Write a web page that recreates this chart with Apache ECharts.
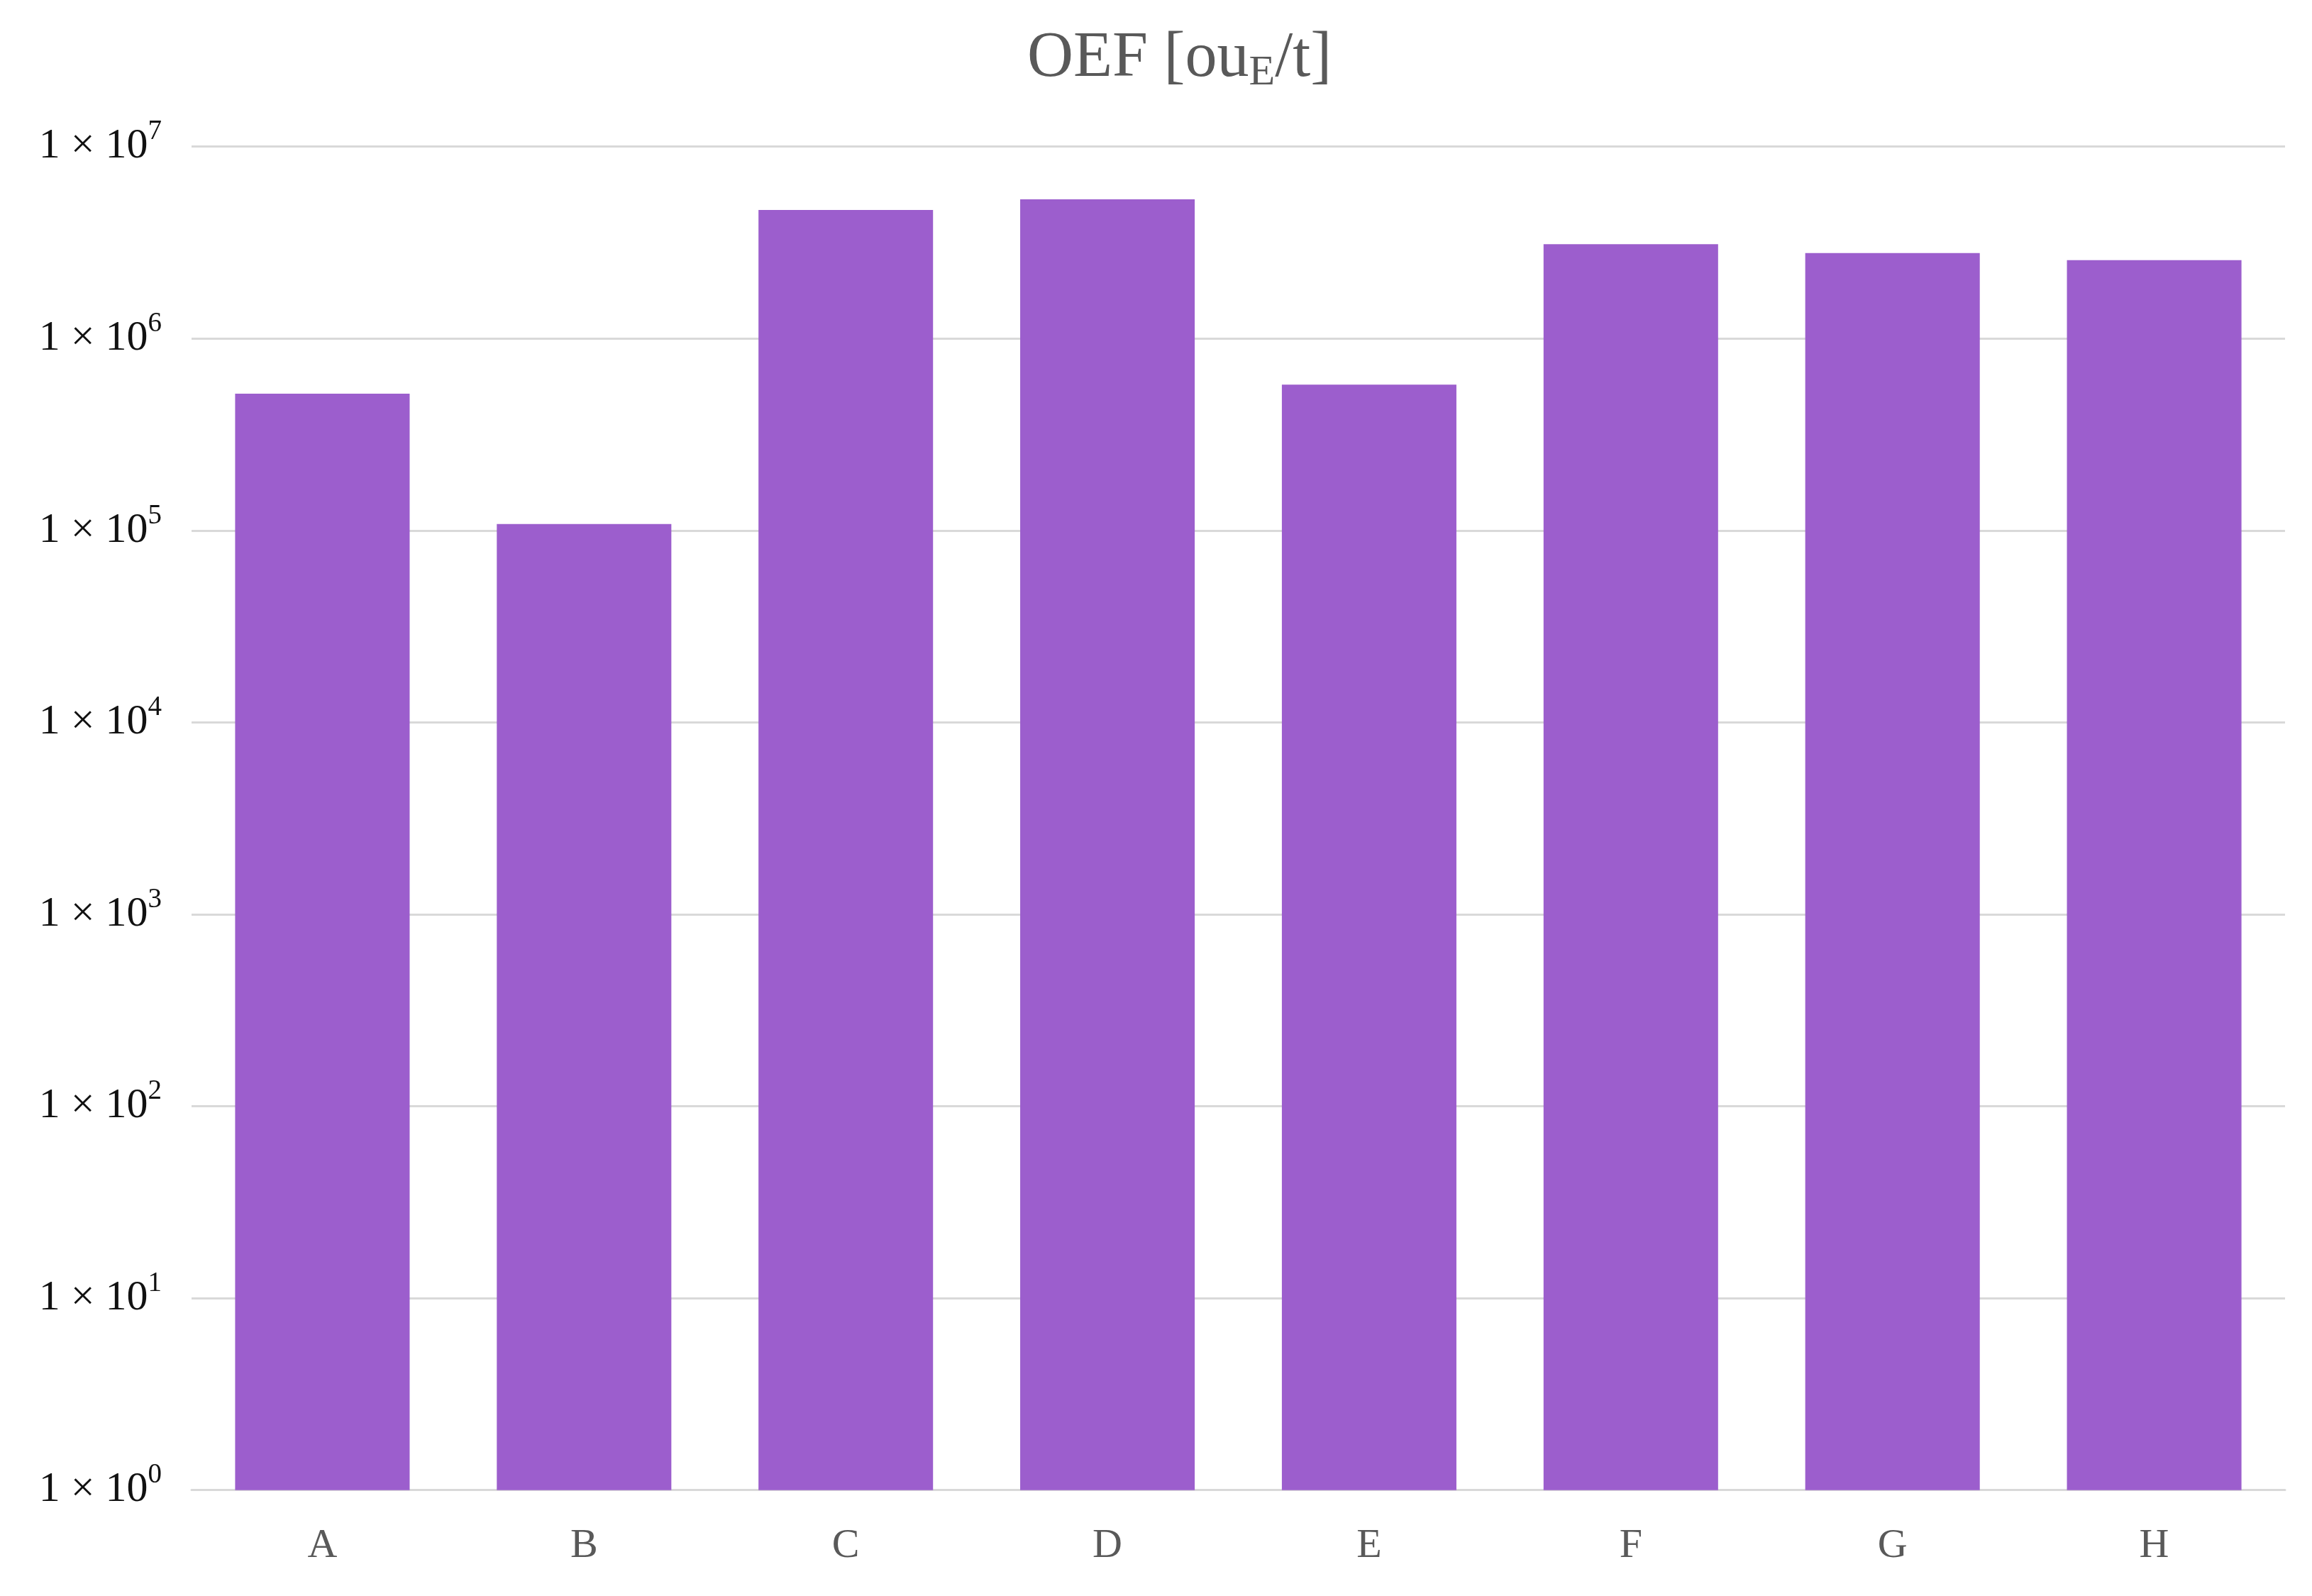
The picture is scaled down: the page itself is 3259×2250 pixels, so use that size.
<!DOCTYPE html>
<html>
<head>
<meta charset="utf-8">
<script src="https://cdn.jsdelivr.net/npm/echarts@6/dist/echarts.min.js"></script>
<style>
  html, body { margin: 0; padding: 0; background: #ffffff; }
  #chart { width: 3259px; height: 2250px; }
</style>
</head>
<body>
<div id="chart"></div>
<script>
// ---- Data ----
const categories = ['A', 'B', 'C', 'D', 'E', 'F', 'G', 'H'];
const oefValues = [516000, 108000, 4680000, 5310000, 575000, 3100000, 2790000, 2560000];
const yTickExponents = [0, 1, 2, 3, 4, 5, 6, 7];
const titleMain = 'OEF [ou';
const titleSub = 'E';
const titleTail = '/t]';

const serif = '"Liberation Serif", "DejaVu Serif", serif';

const chart = echarts.init(document.getElementById('chart'), null, { renderer: 'canvas' });

const option = {
  backgroundColor: '#ffffff',
  animation: false,
  title: {
    text: '{m|' + titleMain + '}{s|' + titleSub + '}{m|' + titleTail + '}',
    left: 1443,
    top: 28,
    textStyle: {
      fontWeight: 'normal',
      rich: {
        m: { fontFamily: serif, fontSize: 90, fontWeight: 'normal', color: '#595959', lineHeight: 100 },
        s: { fontFamily: serif, fontSize: 60, fontWeight: 'normal', color: '#595959', lineHeight: 46, verticalAlign: 'bottom' }
      }
    }
  },
  grid: {
    left: 270,
    right: 38,
    top: 206.7,
    bottom: 149.3,
    containLabel: false
  },
  xAxis: {
    type: 'category',
    data: categories,
    axisTick: { show: false },
    axisLine: { show: true, lineStyle: { color: '#d9d9d9', width: 3 } },
    axisLabel: {
      margin: 50,
      fontFamily: serif,
      fontSize: 58,
      lineHeight: 58,
      color: '#595959'
    }
  },
  yAxis: {
    type: 'log',
    logBase: 10,
    min: Math.pow(10, yTickExponents[0]),
    max: Math.pow(10, yTickExponents[yTickExponents.length - 1]),
    interval: 1,
    axisLine: { show: false },
    axisTick: { show: false },
    splitLine: { show: true, lineStyle: { color: '#d9d9d9', width: 3 } },
    axisLabel: {
      margin: 42,
      formatter: function (v) {
        const e = Math.round(Math.log10(v));
        return '{m|1 × 10}{s|' + e + '}';
      },
      rich: {
        m: { fontFamily: serif, fontSize: 60, color: '#111111', lineHeight: 80 },
        s: { fontFamily: serif, fontSize: 39, color: '#111111', lineHeight: 30, verticalAlign: 'top' }
      }
    }
  },
  series: [{
    type: 'bar',
    data: oefValues,
    barCategoryGap: '33.3%',
    itemStyle: { color: '#9c5ecd' }
  }]
};

chart.setOption(option);
</script>
</body>
</html>
